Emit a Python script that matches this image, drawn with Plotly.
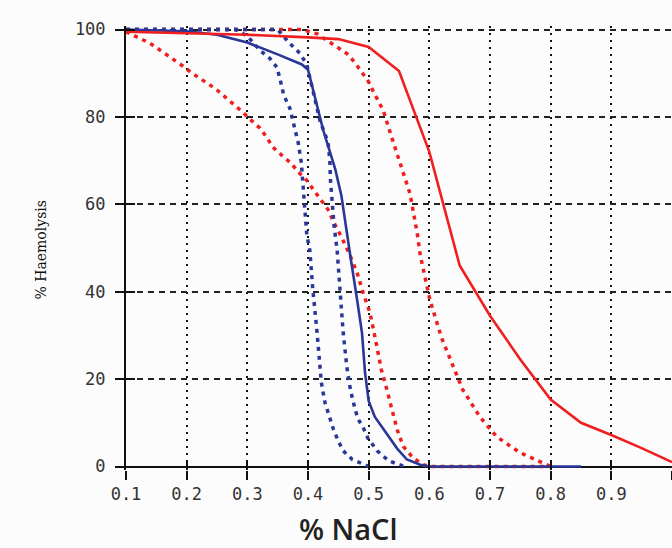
import plotly.graph_objects as go

# ---- data ----
tick_x = [0.1, 0.2, 0.3, 0.4, 0.5, 0.6, 0.7, 0.8, 0.9, 1.0]
tick_x_text = ["0.1", "0.2", "0.3", "0.4", "0.5", "0.6", "0.7", "0.8", "0.9", "1"]
tick_y = [0, 20, 40, 60, 80, 100]

red_solid_x = [0.10, 0.20, 0.30, 0.40, 0.45, 0.50, 0.55, 0.60, 0.65, 0.70, 0.75, 0.80, 0.85, 0.90, 0.95, 1.00]
red_solid_y = [99.5, 99.2, 98.8, 98.2, 97.8, 96.0, 90.5, 72.0, 46.0, 34.5, 24.5, 15.3, 10.0, 7.2, 4.2, 1.0]

red_dot_right_x = [0.10, 0.36, 0.39, 0.415, 0.448, 0.464, 0.477, 0.489, 0.50, 0.507, 0.524, 0.538, 0.552, 0.568,
                   0.58, 0.585, 0.601, 0.62, 0.637, 0.655, 0.683, 0.711, 0.749, 0.787, 0.80]
red_dot_right_y = [100, 100, 100, 99.0, 96.1, 94.5, 92.5, 90.2, 88.0, 86.0, 81.5, 75.3, 69.4, 62.5,
                   53.4, 48.4, 38.1, 29.5, 23.7, 17.6, 11.4, 6.8, 3.2, 0.9, 0.0]

red_dot_left_x = [0.10, 0.118, 0.14, 0.159, 0.176, 0.194, 0.21, 0.23, 0.247, 0.263, 0.276, 0.293, 0.304, 0.321,
                  0.332, 0.342, 0.357, 0.372, 0.384, 0.398, 0.408, 0.42, 0.433, 0.442, 0.456, 0.469, 0.481, 0.491,
                  0.502, 0.508, 0.515, 0.521, 0.53, 0.539, 0.547, 0.557, 0.573, 0.59, 0.60, 0.80]
red_dot_left_y = [99.5, 98.2, 96.8, 95.0, 93.4, 91.6, 89.9, 88.1, 86.5, 84.6, 83.1, 81.0, 79.5, 77.4,
                  75.3, 73.1, 71.2, 69.4, 67.4, 65.5, 63.5, 61.2, 58.8, 56.0, 52.3, 48.4, 44.3, 39.7,
                  35.2, 31.3, 26.7, 22.1, 17.6, 13.0, 8.4, 4.6, 2.0, 0.4, 0.0, 0.0]

blue_solid_x = [0.10, 0.20, 0.25, 0.30, 0.35, 0.39, 0.40, 0.41, 0.425, 0.435, 0.445, 0.455, 0.462, 0.47,
                0.481, 0.489, 0.494, 0.50, 0.51, 0.53, 0.547, 0.563, 0.585, 0.60, 0.85]
blue_solid_y = [100, 99.6, 98.8, 97.0, 94.3, 92.0, 90.8, 85.0, 77.0, 72.5, 68.0, 62.0, 55.0, 48.0,
                38.1, 30.6, 21.5, 15.0, 11.4, 7.4, 4.1, 1.6, 0.4, 0.0, 0.0]

blue_dot_left_x = [0.10, 0.28, 0.30, 0.321, 0.337, 0.349, 0.355, 0.36, 0.37, 0.378, 0.384, 0.389, 0.392, 0.395,
                   0.398, 0.403, 0.408, 0.415, 0.422, 0.428, 0.433, 0.442, 0.45, 0.458, 0.473, 0.494, 0.50]
blue_dot_left_y = [100, 100, 98.5, 95.2, 93.4, 91.3, 88.0, 85.0, 82.0, 77.5, 74.0, 69.5, 64.0, 58.0,
                   53.0, 49.5, 40.4, 30.6, 19.2, 14.6, 12.3, 8.5, 5.8, 3.6, 1.6, 0.2, 0.0]

blue_dot_right_x = [0.10, 0.35, 0.37, 0.387, 0.398, 0.405, 0.42, 0.433, 0.436, 0.437, 0.44, 0.443, 0.448, 0.453,
                    0.458, 0.464, 0.47, 0.476, 0.482, 0.491, 0.499, 0.514, 0.533, 0.555, 0.56]
blue_dot_right_y = [100, 100, 96.8, 94.5, 92.0, 88.0, 79.0, 74.2, 70.0, 65.5, 60.5, 55.0, 49.5, 40.4,
                    30.6, 22.8, 17.5, 14.0, 11.0, 8.9, 6.4, 3.6, 1.3, 0.2, 0.0]

RED = "#f01e1e"
BLUE = "#2a3799"

fig = go.Figure()

def add_line(x, y, color, width, dash):
    fig.add_trace(go.Scatter(x=x, y=y, mode="lines",
                             line=dict(color=color, width=width, dash=dash),
                             showlegend=False, hoverinfo="skip"))

add_line(red_dot_left_x, red_dot_left_y, RED, 3.5, "4px,5px")
add_line(red_dot_right_x, red_dot_right_y, RED, 3.5, "4px,5px")
add_line(blue_dot_left_x, blue_dot_left_y, BLUE, 3.5, "4px,5px")
add_line(blue_dot_right_x, blue_dot_right_y, BLUE, 3.5, "4px,5px")
add_line(blue_solid_x, blue_solid_y, BLUE, 2.6, "solid")
add_line(red_solid_x, red_solid_y, RED, 2.6, "solid")

# empty trace to host the overlay axes used for inward-pointing ticks
fig.add_trace(go.Scatter(x=[], y=[], xaxis="x2", yaxis="y2", showlegend=False, hoverinfo="skip"))

tick_font = dict(family="DejaVu Sans Mono", size=17, color="#333333")
XR = [0.1, 1.0]
YR = [-0.8, 100.8]

fig.update_layout(
    width=672, height=548,
    margin=dict(l=126, r=0, t=26, b=78, autoexpand=False),
    paper_bgcolor="#fcfcfc", plot_bgcolor="#fcfcfc",
    xaxis=dict(range=XR, tickvals=tick_x, ticktext=tick_x_text, ticks="outside", ticklen=9,
               tickwidth=2, tickcolor="#111", showline=False, showgrid=True,
               gridcolor="#111", gridwidth=2, griddash="2px,5px", zeroline=False,
               tickfont=tick_font, ticklabelstandoff=0, automargin=False),
    yaxis=dict(range=YR, tickvals=tick_y, ticks="outside", ticklen=9, tickwidth=2, tickcolor="#111",
               showline=True, linecolor="#111", linewidth=2, showgrid=True,
               gridcolor="#222", gridwidth=1.5, griddash="6px,5px",
               zeroline=True, zerolinecolor="#111", zerolinewidth=2,
               tickfont=tick_font, ticklabelstandoff=6, automargin=False),
    xaxis2=dict(range=XR, tickvals=tick_x, overlaying="x", anchor="y2", ticks="inside", ticklen=9,
                tickwidth=2, tickcolor="#111", showticklabels=False, showgrid=False, zeroline=False,
                showline=False, automargin=False),
    yaxis2=dict(range=YR, tickvals=tick_y, overlaying="y", anchor="x2", side="left", ticks="inside",
                ticklen=9, tickwidth=2, tickcolor="#111", showticklabels=False, showgrid=False,
                zeroline=False, showline=False, automargin=False),
    annotations=[
        dict(text="% NaCl", xref="paper", yref="paper", x=0.4066, y=-0.1318,
             xanchor="center", yanchor="middle", showarrow=False,
             font=dict(family="Open Sans", size=29, color="#222222", weight=600)),
        dict(text="% Haemolysis", xref="paper", yref="paper", x=-0.1557, y=0.4966,
             xanchor="center", yanchor="middle", showarrow=False, textangle=-90,
             font=dict(family="DejaVu Serif", size=14, color="#111111")),
    ],
)

fig.write_html("out.html", config={"displayModeBar": False},
               post_script="document.body.style.margin='0';document.body.style.overflow='hidden';")
